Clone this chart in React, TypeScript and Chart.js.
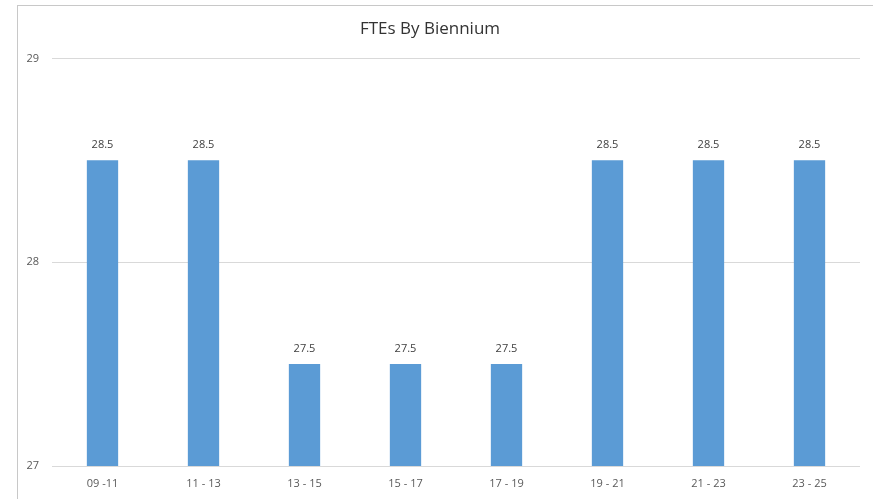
import React, { useEffect, useRef } from "react";
import { Chart, registerables } from "chart.js";

Chart.register(...registerables);

const categories = ["09 -11", "11 - 13", "13 - 15", "15 - 17", "17 - 19", "19 - 21", "21 - 23", "23 - 25"];
const fteValues = [28.5, 28.5, 27.5, 27.5, 27.5, 28.5, 28.5, 28.5];
const yTicks = [27, 28, 29];

const FONT = "'Open Sans', 'Liberation Sans', sans-serif";
const BAR_COLOR = "#5B9BD5";
const TEXT_COLOR = "#595959";

// Writes each bar's value just above its top edge
const valueLabels = {
  id: "valueLabels",
  afterDatasetsDraw(chart: any) {
    const { ctx } = chart;
    const meta = chart.getDatasetMeta(0);
    ctx.save();
    ctx.font = `11px ${FONT}`;
    ctx.fillStyle = "#404040";
    ctx.textAlign = "center";
    ctx.textBaseline = "middle";
    meta.data.forEach((bar: any, i: number) => {
      ctx.fillText(String(fteValues[i]), bar.x, bar.y - 15);
    });
    ctx.restore();
  },
};

export default function App() {
  const canvasRef = useRef<HTMLCanvasElement | null>(null);

  useEffect(() => {
    if (!canvasRef.current) return;
    const chart = new Chart(canvasRef.current, {
      type: "bar",
      data: {
        labels: categories,
        datasets: [
          {
            data: fteValues,
            backgroundColor: BAR_COLOR,
            borderWidth: 0,
            categoryPercentage: 1,
            barPercentage: 0.31,
          },
        ],
      },
      options: {
        animation: false,
        responsive: false,
        layout: { padding: { left: 0, right: 13, top: 0, bottom: 0 } },
        plugins: {
          legend: { display: false },
          tooltip: { enabled: false },
          title: {
            display: true,
            text: "FTEs By Biennium",
            color: "#333333",
            font: { family: FONT, size: 17, weight: "normal" },
            padding: { top: 19, bottom: 19 },
          },
        },
        scales: {
          x: {
            grid: { display: false },
            border: { display: false },
            ticks: {
              color: TEXT_COLOR,
              font: { family: FONT, size: 11 },
              padding: 3,
              maxRotation: 0,
            },
            afterFit: (s: any) => {
              s.height = 33;
            },
          },
          y: {
            min: 27,
            max: 29,
            afterBuildTicks: (s: any) => {
              s.ticks = yTicks.map((v) => ({ value: v }));
            },
            grid: { color: "#d9d9d9", lineWidth: 1, drawTicks: false },
            border: { display: false },
            ticks: {
              color: TEXT_COLOR,
              font: { family: FONT, size: 11 },
              padding: 13,
            },
            afterFit: (s: any) => {
              s.width = 52;
            },
          },
        },
      },
      plugins: [valueLabels],
    });
    return () => chart.destroy();
  }, []);

  return (
    <div style={{ position: "fixed", left: 0, top: 0, width: 873, height: 499, overflow: "hidden", background: "#fff" }}>
      <div
        style={{
          position: "absolute",
          left: 17,
          top: 5,
          width: 870,
          height: 520,
          borderLeft: "1px solid #c8c8c8",
          borderTop: "1px solid #c8c8c8",
        }}
      />
      <canvas ref={canvasRef} width={873} height={499} style={{ position: "absolute", left: 0, top: 0 }} />
    </div>
  );
}
